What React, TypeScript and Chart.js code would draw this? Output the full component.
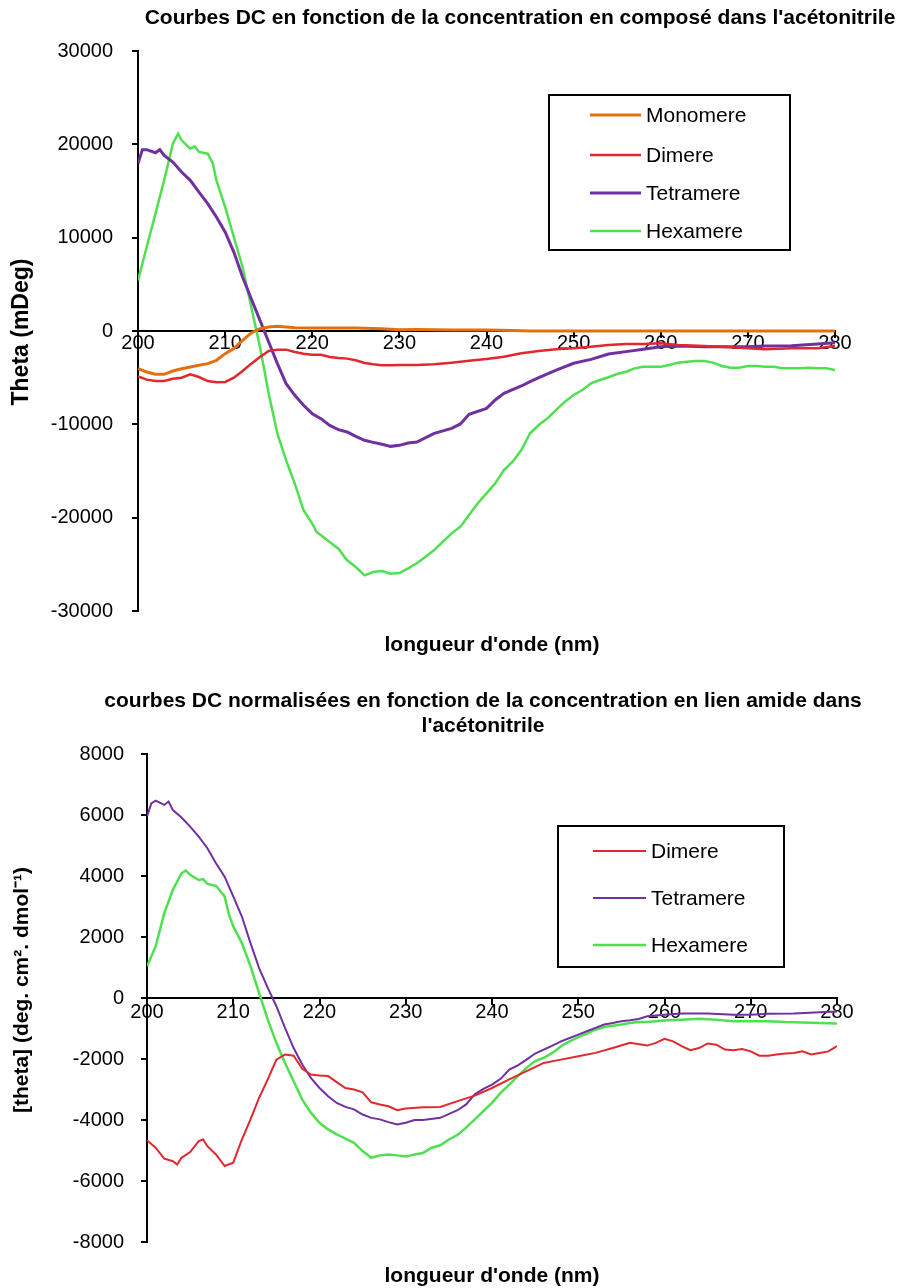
import React, { useEffect, useRef } from "react";
import { Chart, registerables } from "chart.js";

Chart.register(...registerables);

// ---------- Chart 1 data (Theta, mDeg) ----------
const mono1Wl = [200,201,202,203,204,205,206,207,208,209,210,211,212,213,214,215,216,217,218,220,225,228,230,232,236,240,243,245,250,260,270,280];
const mono1Val = [-4040,-4390,-4640,-4640,-4290,-4040,-3860,-3680,-3500,-3140,-2430,-1890,-1000,-210,250,430,500,430,360,320,320,250,140,150,120,100,50,0,0,0,0,0];

const di1Wl = [200,201,202,203,204,205,206,207,208,209,210,211,212,213,214,215,216,217,218,219,220,221,222,223,224,225,226,227,228,229,230,232,234,236,238,240,242,244,246,248,250,252,254,256,258,260,262,265,268,270,272,275,278,280];
const di1Val = [-4860,-5210,-5360,-5360,-5110,-5000,-4640,-4930,-5360,-5500,-5460,-5000,-4290,-3500,-2790,-2140,-2000,-2000,-2250,-2430,-2540,-2540,-2790,-2890,-2960,-3140,-3430,-3570,-3680,-3680,-3650,-3650,-3570,-3390,-3180,-3000,-2750,-2390,-2140,-1960,-1860,-1680,-1500,-1390,-1390,-1320,-1500,-1610,-1750,-1860,-1960,-1860,-1860,-1610];

const tetra1Wl = [200,200.5,201,202,202.5,203,204,205,206,207,208,209,210,211,212,213,214,215,216,217,218,219,220,221,222,223,224,225,226,227,228,229,230,231,232,234,236,237,238,240,241,242,244,245,246,248,250,252,254,256,258,260,262,265,268,270,272,275,278,280];
const tetra1Val = [17930,19430,19430,19100,19430,18820,18100,17040,16140,14890,13640,12210,10610,8460,5790,3460,1140,-1180,-3500,-5640,-6890,-7960,-8860,-9390,-10110,-10570,-10820,-11290,-11710,-11930,-12140,-12360,-12250,-12000,-11890,-10960,-10430,-9960,-8930,-8290,-7390,-6680,-5890,-5430,-5000,-4180,-3460,-3040,-2460,-2210,-1960,-1680,-1610,-1680,-1680,-1680,-1610,-1570,-1390,-1250];

const hexa1Wl = [200,201,202,203,204,204.6,205,206,206.5,207,208,208.6,209,210,211,212,213,214,215,216,217,218,219,220,220.5,221,222,223,224,225,226,227,228,229,230,231,232,233,234,235,236,237,238,239,240,241,242,243,244,245,246,247,248,249,250,251,252,253,254,255,256,257,258,259,260,261,262,263,264,265,266,267,268,269,270,271,272,273,274,275,276,277,278,279,280];
const hexa1Val = [5430,9000,12570,16140,20070,21140,20430,19540,19790,19180,19000,17930,16140,13290,10070,6860,2570,-1710,-6710,-11000,-13860,-16360,-19210,-20640,-21540,-21890,-22610,-23320,-24570,-25290,-26180,-25820,-25710,-26000,-25930,-25430,-24890,-24180,-23460,-22570,-21680,-20960,-19710,-18460,-17390,-16320,-14890,-14000,-12750,-10960,-10070,-9360,-8460,-7570,-6860,-6320,-5610,-5250,-4960,-4610,-4360,-4000,-3820,-3820,-3820,-3640,-3390,-3290,-3210,-3210,-3390,-3750,-3930,-3930,-3750,-3750,-3820,-3820,-4000,-4000,-4000,-3930,-4000,-4000,-4180];

// ---------- Chart 2 data ([theta]) ----------
const di2Wl = [200,201,202,203,203.5,204,205,206,206.5,207,208,209,210,211,212,213,214,215,216,217,218,219,220,221,222,223,224,225,226,227,228,229,230,232,234,236,238,240,242,244,246,248,250,252,254,256,258,259,260,261,262,263,264,265,266,267,268,269,270,271,272,273,274,275,276,277,278,279,280];
const di2Val = [-4660,-4910,-5270,-5350,-5460,-5240,-5050,-4690,-4640,-4860,-5130,-5510,-5400,-4640,-3980,-3270,-2670,-2020,-1850,-1890,-2320,-2510,-2540,-2560,-2760,-2950,-3000,-3090,-3420,-3490,-3550,-3680,-3620,-3580,-3570,-3380,-3200,-2950,-2670,-2400,-2130,-2020,-1910,-1800,-1640,-1470,-1560,-1470,-1340,-1420,-1580,-1710,-1640,-1490,-1530,-1690,-1710,-1670,-1750,-1890,-1890,-1850,-1820,-1800,-1750,-1850,-1800,-1750,-1580];

const tetra2Wl = [200,200.5,201,202,202.5,203,204,205,206,207,208,209,210,211,212,213,214,215,216,217,218,219,220,221,222,223,224,225,226,227,228,229,230,231,232,234,236,237,238,239,240,241,242,243,244,245,246,247,248,249,250,251,252,253,254,255,256,257,258,260,262,265,268,270,272,275,278,280];
const tetra2Val = [5950,6380,6470,6330,6440,6160,5920,5620,5290,4910,4420,3980,3330,2670,1800,980,330,-270,-980,-1640,-2180,-2620,-2950,-3220,-3440,-3570,-3650,-3820,-3930,-3980,-4070,-4150,-4090,-4000,-4000,-3930,-3680,-3490,-3160,-2980,-2840,-2650,-2350,-2210,-2020,-1820,-1690,-1560,-1420,-1310,-1200,-1090,-980,-870,-820,-760,-730,-690,-600,-550,-510,-510,-550,-550,-520,-510,-470,-440];

const hexa2Wl = [200,201,202,203,204,204.5,205,206,206.5,207,208,209,209.5,210,211,212,213,214,215,216,217,218,219,220,221,222,223,224,225,226,227,228,229,230,231,232,233,234,235,236,237,238,239,240,241,242,243,244,245,246,247,248,249,250,251,252,253,254,255,256,257,258,260,262,264,266,268,270,272,274,276,278,280];
const hexa2Val = [1040,1690,2780,3550,4090,4180,4040,3870,3900,3740,3680,3330,2730,2350,1800,1040,160,-710,-1470,-2130,-2730,-3330,-3760,-4090,-4310,-4470,-4610,-4750,-5020,-5240,-5160,-5130,-5160,-5200,-5130,-5080,-4910,-4830,-4640,-4490,-4250,-3980,-3710,-3440,-3110,-2840,-2560,-2290,-2070,-1960,-1800,-1580,-1420,-1280,-1170,-1040,-950,-910,-870,-820,-790,-790,-740,-710,-680,-710,-760,-760,-760,-790,-800,-820,-840];

// ---------- labels ----------
const title1 = "Courbes DC en fonction de la concentration en composé dans l'acétonitrile";
const title2a = "courbes DC normalisées en fonction de la concentration en lien amide dans";
const title2b = "l'acétonitrile";
const xTitle = "longueur d'onde (nm)";
const yTitle1 = "Theta (mDeg)";
const yTitle2 = "[theta] (deg. cm². dmol⁻¹)";
const names1 = ["Monomere", "Dimere", "Tetramere", "Hexamere"];
const names2 = ["Dimere", "Tetramere", "Hexamere"];

const ORANGE = "#E3700C";
const RED = "#E0282E";
const PURPLE = "#7030A0";
const GREEN = "#4FE050";

const FONT = "'Liberation Sans', Arial, sans-serif";
const TICK_SIZE = 20;
const TITLE_SIZE = 21;
const LEGEND_SIZE = 21;

const pts = (wl: number[], v: number[]) => wl.map((x, i) => ({ x, y: v[i] }));

type Cfg = {
  datasets: any[];
  yMin: number;
  yMax: number;
  yStep: number;
  leftW: number;
  padTop: number;
  padBottom: number;
  padRight: number;
  xLabelPad: number;
  yLabelPad: number;
  titles: { text: string; x: number; y: number }[];
  yTitle: { text: string; x: number; y: number; size: number };
  xTitleY: number;
  legend: { x: number; y: number; w: number; h: number; rows: number[]; lineX1: number; lineX2: number; textX: number };
};

function makeChart(canvas: HTMLCanvasElement, c: Cfg) {
  const textPlugin = {
    id: "texts",
    afterDraw(chart: any) {
      const ctx = chart.ctx;
      ctx.save();
      ctx.fillStyle = "#000";
      ctx.textAlign = "center";
      ctx.textBaseline = "middle";
      ctx.font = `bold ${TITLE_SIZE}px ${FONT}`;
      c.titles.forEach((t) => ctx.fillText(t.text, t.x, t.y));
      ctx.fillText(xTitle, 492, c.xTitleY);
      ctx.save();
      ctx.font = `bold ${c.yTitle.size}px ${FONT}`;
      ctx.translate(c.yTitle.x, c.yTitle.y);
      ctx.rotate(-Math.PI / 2);
      ctx.fillText(c.yTitle.text, 0, 0);
      ctx.restore();
      // legend
      const L = c.legend;
      ctx.fillStyle = "#fff";
      ctx.fillRect(L.x, L.y, L.w, L.h);
      ctx.strokeStyle = "#000";
      ctx.lineWidth = 2;
      ctx.strokeRect(L.x, L.y, L.w, L.h);
      ctx.textAlign = "left";
      ctx.font = `${LEGEND_SIZE}px ${FONT}`;
      chart.data.datasets.forEach((ds: any, i: number) => {
        const y = L.rows[i];
        ctx.strokeStyle = ds.borderColor;
        ctx.lineWidth = ds.borderWidth;
        ctx.beginPath();
        ctx.moveTo(L.lineX1, y);
        ctx.lineTo(L.lineX2, y);
        ctx.stroke();
        ctx.fillStyle = "#000";
        ctx.fillText(ds.label, L.textX, y + 1);
      });
      ctx.restore();
    },
  };

  return new Chart(canvas, {
    type: "line",
    data: { datasets: c.datasets },
    options: {
      responsive: false,
      animation: false,
      events: [],
      layout: { padding: { left: 0, top: c.padTop, bottom: c.padBottom, right: c.padRight } },
      elements: { point: { radius: 0 }, line: { tension: 0 } },
      plugins: { legend: { display: false }, title: { display: false }, tooltip: { enabled: false } },
      scales: {
        x: {
          type: "linear",
          position: { y: 0 } as any,
          min: 200,
          max: 280,
          grid: { drawOnChartArea: false, drawTicks: true, tickLength: 6, color: "#000", lineWidth: 2 },
          border: { display: true, color: "#000", width: 2 },
          ticks: {
            stepSize: 10,
            color: "#000",
            padding: c.xLabelPad,
            font: { family: FONT, size: TICK_SIZE },
            maxRotation: 0,
            callback: (v: any) => String(v),
          },
        },
        y: {
          type: "linear",
          position: "left",
          min: c.yMin,
          max: c.yMax,
          afterFit: (s: any) => {
            s.width = c.leftW;
          },
          grid: { drawOnChartArea: false, drawTicks: true, tickLength: 6, color: "#000", lineWidth: 2 },
          border: { display: true, color: "#000", width: 2 },
          ticks: {
            stepSize: c.yStep,
            color: "#000",
            padding: c.yLabelPad,
            font: { family: FONT, size: TICK_SIZE },
            callback: (v: any) => String(v),
          },
        },
      },
    },
    plugins: [textPlugin],
  } as any);
}

const ds = (label: string, wl: number[], v: number[], color: string, w: number) => ({
  label,
  data: pts(wl, v),
  borderColor: color,
  backgroundColor: color,
  borderWidth: w,
  fill: false,
});

export default function App() {
  const ref1 = useRef<HTMLCanvasElement>(null);
  const ref2 = useRef<HTMLCanvasElement>(null);

  useEffect(() => {
    const c1 = makeChart(ref1.current!, {
      datasets: [
        ds(names1[0], mono1Wl, mono1Val, ORANGE, 3),
        ds(names1[1], di1Wl, di1Val, RED, 2.5),
        ds(names1[2], tetra1Wl, tetra1Val, PURPLE, 3),
        ds(names1[3], hexa1Wl, hexa1Val, GREEN, 2.5),
      ],
      yMin: -30000,
      yMax: 30000,
      yStep: 10000,
      leftW: 138,
      padTop: 51,
      padBottom: 54,
      padRight: 69,
      xLabelPad: -6,
      yLabelPad: 19,
      titles: [{ text: title1, x: 520, y: 18 }],
      yTitle: { text: yTitle1, x: 22, y: 332, size: 23 },
      xTitleY: 645,
      legend: { x: 549, y: 95, w: 241, h: 155, rows: [115, 155, 193, 231], lineX1: 590, lineX2: 641, textX: 646 },
    });
    const c2 = makeChart(ref2.current!, {
      datasets: [
        ds(names2[0], di2Wl, di2Val, RED, 2),
        ds(names2[1], tetra2Wl, tetra2Val, PURPLE, 2),
        ds(names2[2], hexa2Wl, hexa2Val, GREEN, 2.5),
      ],
      yMin: -8000,
      yMax: 8000,
      yStep: 2000,
      leftW: 147,
      padTop: 89,
      padBottom: 46,
      padRight: 67,
      xLabelPad: -4,
      yLabelPad: 17,
      titles: [
        { text: title2a, x: 483, y: 36 },
        { text: title2b, x: 483, y: 61 },
      ],
      yTitle: { text: yTitle2, x: 22, y: 325, size: 21 },
      xTitleY: 611,
      legend: { x: 558, y: 161, w: 226, h: 141, rows: [186, 233, 280], lineX1: 593, lineX2: 646, textX: 651 },
    });
    return () => {
      c1.destroy();
      c2.destroy();
    };
  }, []);

  return (
    <div>
      <canvas ref={ref1} width={904} height={665} style={{ position: "absolute", left: 0, top: 0, width: 904, height: 665 }} />
      <canvas ref={ref2} width={904} height={623} style={{ position: "absolute", left: 0, top: 665, width: 904, height: 623 }} />
    </div>
  );
}
